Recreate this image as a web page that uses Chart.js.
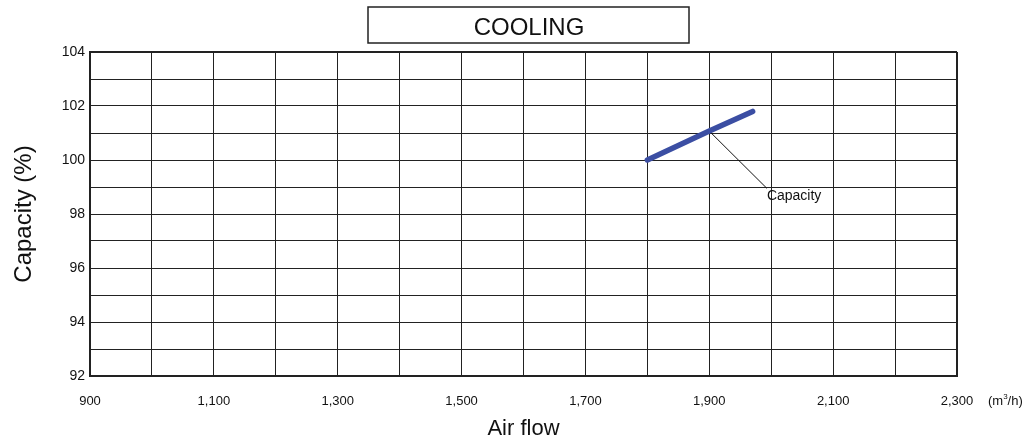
<!DOCTYPE html>
<html>
<head>
<meta charset="utf-8">
<script src="https://cdn.jsdelivr.net/npm/chart.js@4"></script>
<style>
  html, body { margin: 0; padding: 0; background: #fff; }
  #wrap { width: 1027px; height: 441px; }
</style>
</head>
<body>
<div id="wrap"><canvas id="canvas" width="1027" height="441"></canvas></div>
<script>
'use strict';

// air flow (m3/h) and capacity (%)
const airFlow = [1800, 1900, 1970];
const capacity = [100, 101.07, 101.8];
// leader line for the "Capacity" label
const leaderX = [1900, 1993];
const leaderY = [101.07, 98.95];
const xTickLabels = ['900', '1,100', '1,300', '1,500', '1,700', '1,900', '2,100', '2,300'];
const yTickLabels = ['92', '94', '96', '98', '100', '102', '104'];

const FONT = "'Liberation Sans', Arial, sans-serif";

const decorPlugin = {
    id: 'decor',
    afterDraw(chart) {
        const ctx = chart.ctx;
        const area = chart.chartArea;
        const xs = chart.scales.x, ys = chart.scales.y;
        ctx.save();

        // title box
        ctx.strokeStyle = '#222';
        ctx.lineWidth = 1.5;
        ctx.strokeRect(368, 7, 321, 36);
        ctx.fillStyle = '#111';
        ctx.font = '24px ' + FONT;
        ctx.textAlign = 'center';
        ctx.textBaseline = 'alphabetic';
        ctx.fillText('COOLING', 529, 35);

        // axis titles
        ctx.font = '22px ' + FONT;
        ctx.fillText('Air flow', (area.left + area.right) / 2, 435);
        ctx.save();
        ctx.translate(31, (area.top + area.bottom) / 2);
        ctx.rotate(-Math.PI / 2);
        ctx.font = '24px ' + FONT;
        ctx.fillText('Capacity (%)', 0, 0);
        ctx.restore();

        // unit
        ctx.font = '13px ' + FONT;
        ctx.textAlign = 'left';
        ctx.fillText('(m', 988, 405);
        let w = ctx.measureText('(m').width;
        ctx.font = '8px ' + FONT;
        ctx.fillText('3', 988 + w, 399);
        let w2 = ctx.measureText('3').width;
        ctx.font = '13px ' + FONT;
        ctx.fillText('/h)', 988 + w + w2, 405);

        // series label
        ctx.font = '14px ' + FONT;
        ctx.fillText('Capacity', xs.getPixelForValue(leaderX[1]), ys.getPixelForValue(leaderY[1]) + 12);
        ctx.restore();
    }
};

const ctx = document.getElementById('canvas').getContext('2d');

new Chart(ctx, {
    type: 'line',
    data: {
        datasets: [
            {
                label: 'Capacity',
                data: airFlow.map((x, i) => ({ x: x, y: capacity[i] })),
                borderColor: '#3b4ea3',
                borderWidth: 5.5,
                borderCapStyle: 'round',
                pointRadius: 0,
                tension: 0
            },
            {
                label: 'leader',
                data: leaderX.map((x, i) => ({ x: x, y: leaderY[i] })),
                borderColor: '#111',
                borderWidth: 1,
                pointRadius: 0,
                tension: 0
            }
        ]
    },
    options: {
        responsive: false,
        animation: false,
        layout: { padding: { left: 0, right: 70, top: 52, bottom: 0 } },
        plugins: {
            legend: { display: false },
            tooltip: { enabled: false }
        },
        scales: {
            x: {
                type: 'linear',
                min: 900,
                max: 2300,
                afterFit(scale) { scale.height = 65; },
                afterBuildTicks(scale) {
                    const t = [];
                    for (let v = 900; v <= 2300; v += 100) t.push({ value: v });
                    scale.ticks = t;
                },
                ticks: {
                    autoSkip: false,
                    maxRotation: 0,
                    padding: 18,
                    color: '#111',
                    font: { family: FONT, size: 13 },
                    callback: function (v) {
                        const i = (v - 900) / 200;
                        return Number.isInteger(i) ? xTickLabels[i] : '';
                    }
                },
                grid: {
                    drawTicks: false,
                    color: '#222',
                    lineWidth: c => (c.tick && c.tick.value === 2300 ? 2 : 1)
                },
                border: { color: '#222', width: 2 }
            },
            y: {
                min: 92,
                max: 104,
                afterFit(scale) { scale.width = 90; },
                afterBuildTicks(scale) {
                    const t = [];
                    for (let v = 92; v <= 104; v += 1) t.push({ value: v });
                    scale.ticks = t;
                },
                ticks: {
                    autoSkip: false,
                    padding: 5,
                    color: '#111',
                    font: { family: FONT, size: 14 },
                    callback: function (v) {
                        const i = (v - 92) / 2;
                        return Number.isInteger(i) ? yTickLabels[i] : '';
                    }
                },
                grid: {
                    drawTicks: false,
                    color: '#222',
                    lineWidth: c => (c.tick && c.tick.value === 104 ? 2 : 1)
                },
                border: { color: '#222', width: 2 }
            }
        }
    },
    plugins: [decorPlugin]
});
</script>
</body>
</html>
